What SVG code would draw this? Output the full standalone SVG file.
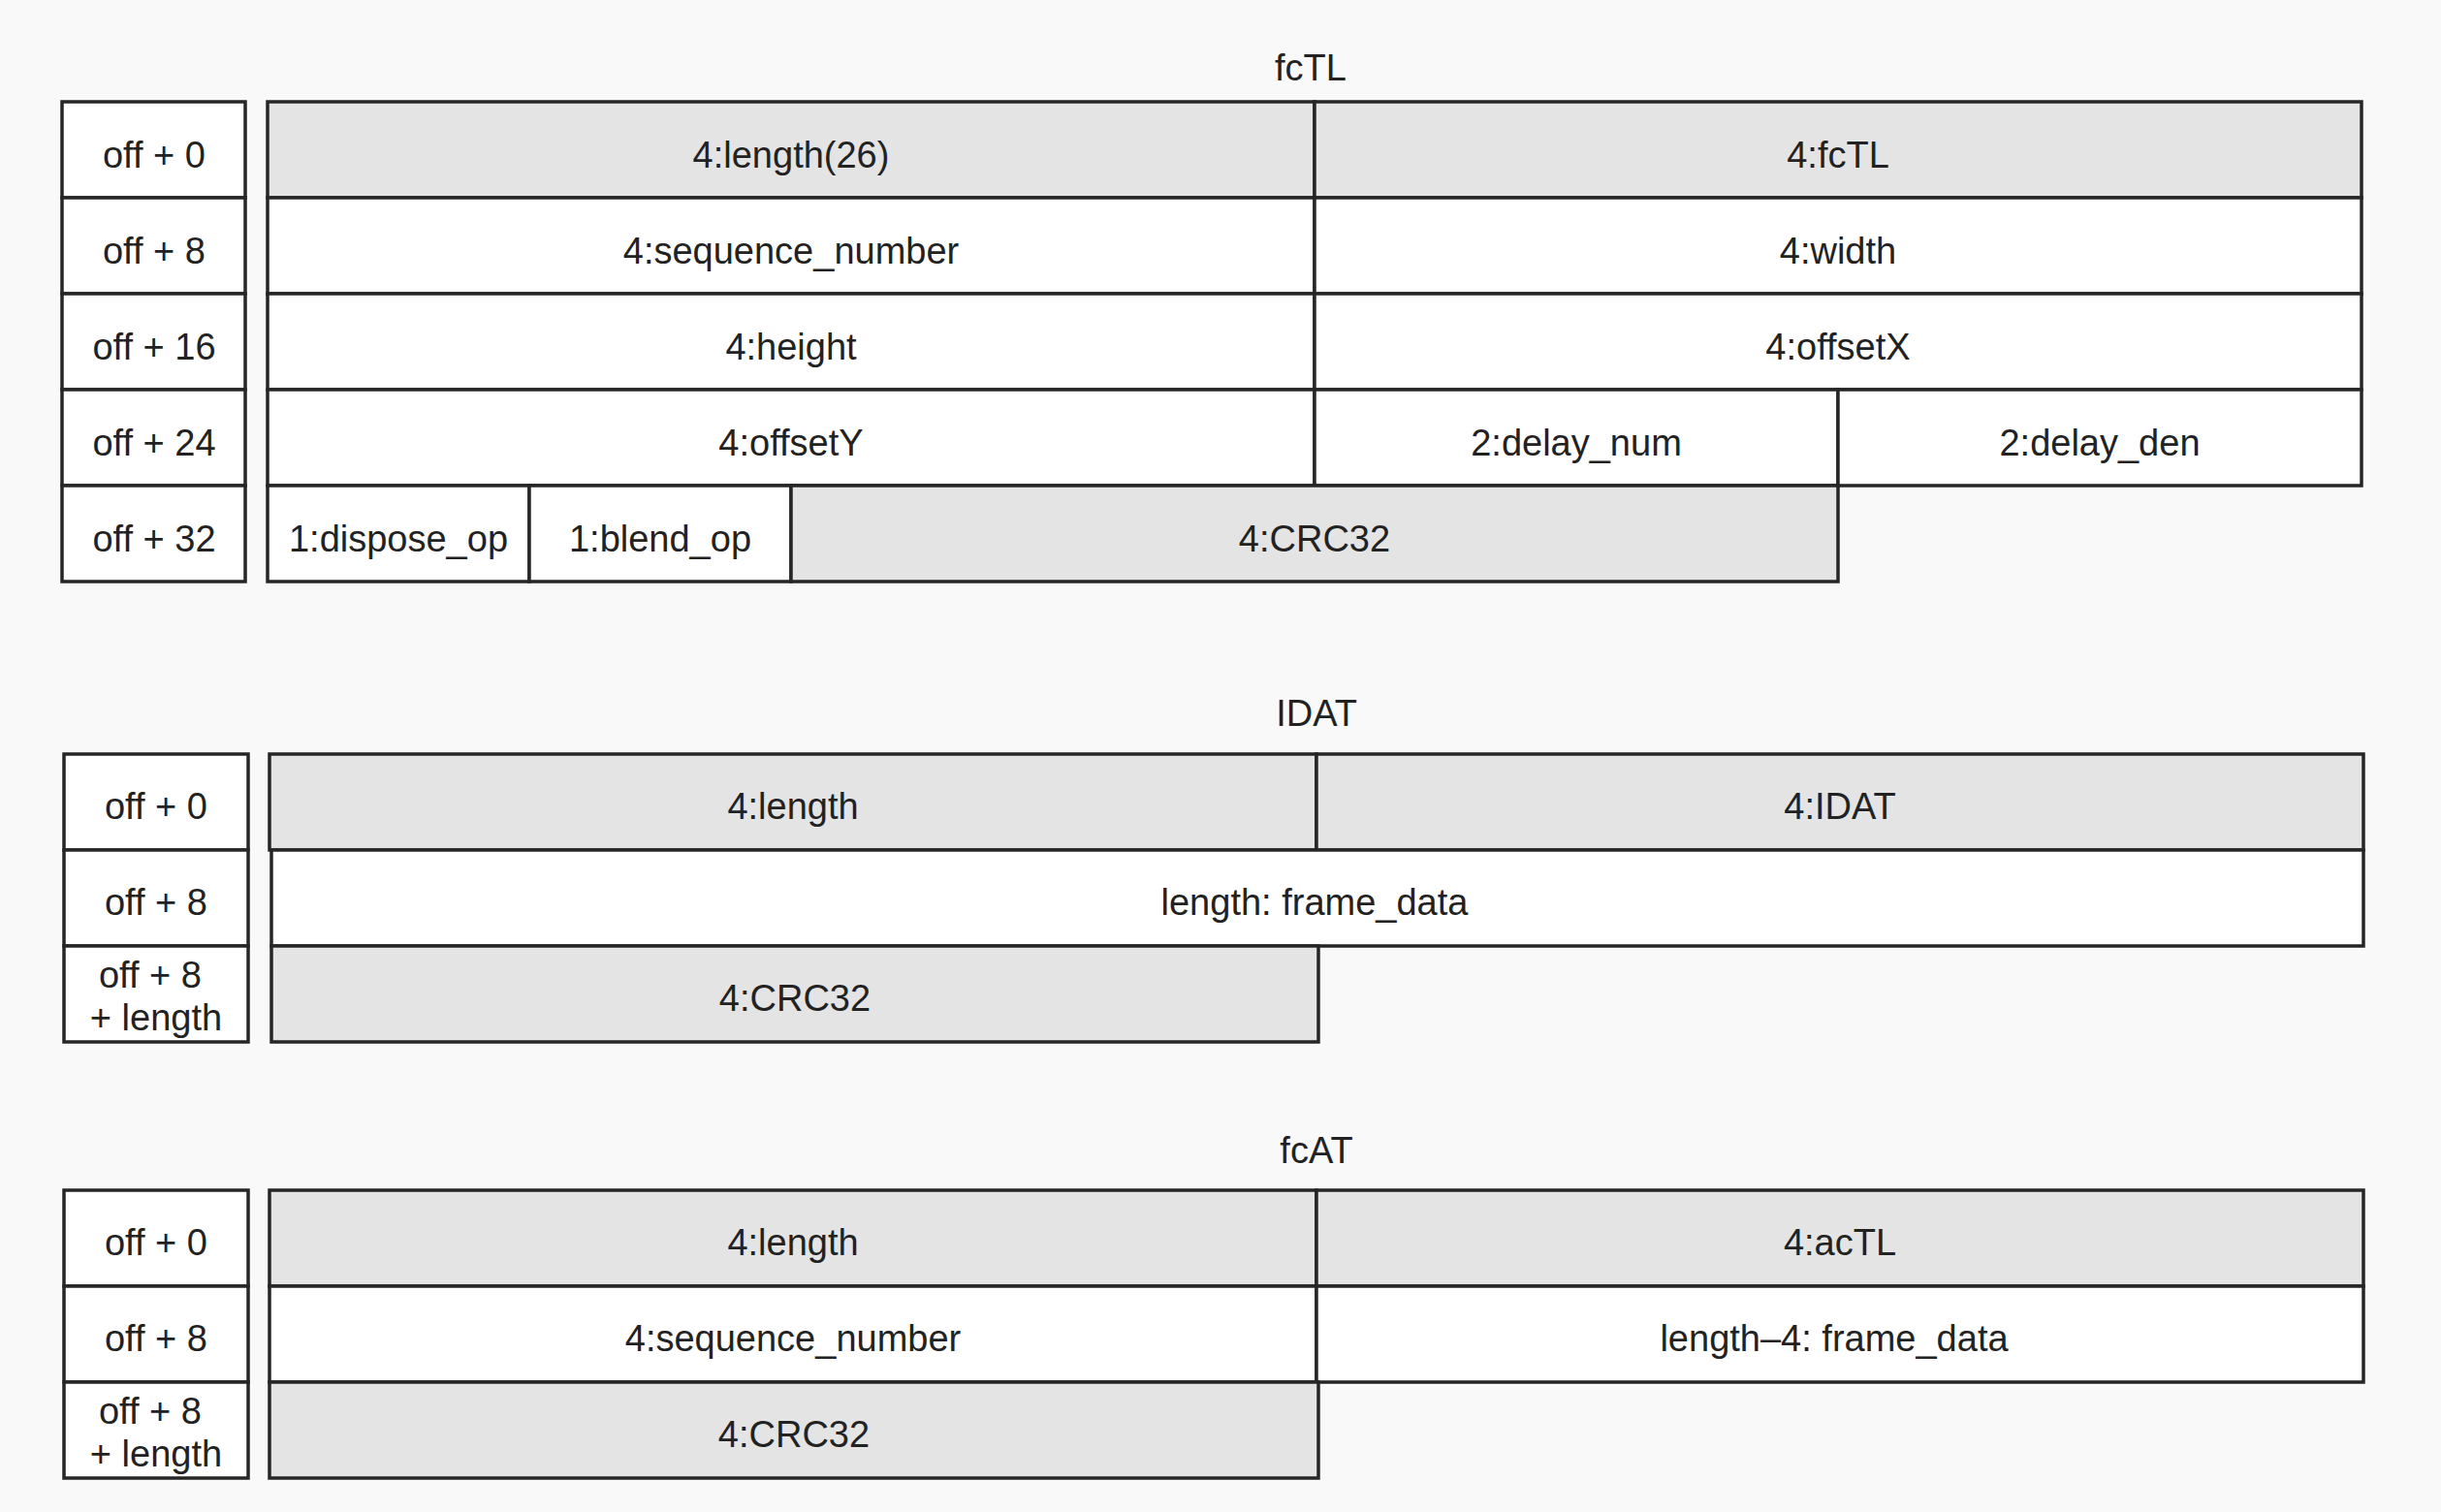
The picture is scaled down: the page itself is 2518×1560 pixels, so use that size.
<svg xmlns="http://www.w3.org/2000/svg" width="2518" height="1560" viewBox="0 0 2518 1560">
<style>
.c{stroke:#262626;stroke-width:3.5}
.w{fill:#ffffff}
.g{fill:#e4e4e4}
.t{font-family:"Liberation Sans",Arial,sans-serif;font-size:38px;fill:#222;text-anchor:middle}
</style>
<rect width="2518" height="1560" fill="#f9f9f9"/>
<!-- fcTL -->
<g id="fcTL">
<text class="t" x="1352" y="83">fcTL</text>
<g id="fcTL-off0"><rect class="c w" x="64" y="105" width="189" height="99"/><text class="t" x="159" y="173">off + 0</text></g>
<g id="fcTL-off8"><rect class="c w" x="64" y="204" width="189" height="99"/><text class="t" x="159" y="272">off + 8</text></g>
<g id="fcTL-off16"><rect class="c w" x="64" y="303" width="189" height="99"/><text class="t" x="159" y="371">off + 16</text></g>
<g id="fcTL-off24"><rect class="c w" x="64" y="402" width="189" height="99"/><text class="t" x="159" y="470">off + 24</text></g>
<g id="fcTL-off32"><rect class="c w" x="64" y="501" width="189" height="99"/><text class="t" x="159" y="569">off + 32</text></g>
<g id="fcTL-length"><rect class="c g" x="276" y="105" width="1080" height="99"/><text class="t" x="816" y="173">4:length(26)</text></g>
<g id="fcTL-type"><rect class="c g" x="1356" y="105" width="1080" height="99"/><text class="t" x="1896" y="173">4:fcTL</text></g>
<g id="fcTL-seq"><rect class="c w" x="276" y="204" width="1080" height="99"/><text class="t" x="816" y="272">4:sequence_number</text></g>
<g id="fcTL-width"><rect class="c w" x="1356" y="204" width="1080" height="99"/><text class="t" x="1896" y="272">4:width</text></g>
<g id="fcTL-height"><rect class="c w" x="276" y="303" width="1080" height="99"/><text class="t" x="816" y="371">4:height</text></g>
<g id="fcTL-offsetX"><rect class="c w" x="1356" y="303" width="1080" height="99"/><text class="t" x="1896" y="371">4:offsetX</text></g>
<g id="fcTL-offsetY"><rect class="c w" x="276" y="402" width="1080" height="99"/><text class="t" x="816" y="470">4:offsetY</text></g>
<g id="fcTL-delaynum"><rect class="c w" x="1356" y="402" width="540" height="99"/><text class="t" x="1626" y="470">2:delay_num</text></g>
<g id="fcTL-delayden"><rect class="c w" x="1896" y="402" width="540" height="99"/><text class="t" x="2166" y="470">2:delay_den</text></g>
<g id="fcTL-dispose"><rect class="c w" x="276" y="501" width="270" height="99"/><text class="t" x="411" y="569">1:dispose_op</text></g>
<g id="fcTL-blend"><rect class="c w" x="546" y="501" width="270" height="99"/><text class="t" x="681" y="569">1:blend_op</text></g>
<g id="fcTL-crc"><rect class="c g" x="816" y="501" width="1080" height="99"/><text class="t" x="1356" y="569">4:CRC32</text></g>
</g>
<!-- IDAT -->
<g id="IDAT">
<text class="t" x="1358" y="749">IDAT</text>
<g id="IDAT-off0"><rect class="c w" x="66" y="778" width="190" height="99"/><text class="t" x="161" y="845">off + 0</text></g>
<g id="IDAT-off8"><rect class="c w" x="66" y="877" width="190" height="99"/><text class="t" x="161" y="944">off + 8</text></g>
<g id="IDAT-offlen"><rect class="c w" x="66" y="976" width="190" height="99"/><text class="t" x="155" y="1019">off + 8</text><text class="t" x="161" y="1063">+ length</text></g>
<g id="IDAT-length"><rect class="c g" x="278" y="778" width="1080" height="99"/><text class="t" x="818" y="845">4:length</text></g>
<g id="IDAT-type"><rect class="c g" x="1358" y="778" width="1080" height="99"/><text class="t" x="1898" y="845">4:IDAT</text></g>
<g id="IDAT-data"><rect class="c w" x="280" y="877" width="2158" height="99"/><text class="t" x="1356" y="944">length: frame_data</text></g>
<g id="IDAT-crc"><rect class="c g" x="280" y="976" width="1080" height="99"/><text class="t" x="820" y="1043">4:CRC32</text></g>
</g>
<!-- fcAT -->
<g id="fcAT">
<text class="t" x="1358" y="1200">fcAT</text>
<g id="fcAT-off0"><rect class="c w" x="66" y="1228" width="190" height="99"/><text class="t" x="161" y="1295">off + 0</text></g>
<g id="fcAT-off8"><rect class="c w" x="66" y="1327" width="190" height="99"/><text class="t" x="161" y="1394">off + 8</text></g>
<g id="fcAT-offlen"><rect class="c w" x="66" y="1426" width="190" height="99"/><text class="t" x="155" y="1469">off + 8</text><text class="t" x="161" y="1513">+ length</text></g>
<g id="fcAT-length"><rect class="c g" x="278" y="1228" width="1080" height="99"/><text class="t" x="818" y="1295">4:length</text></g>
<g id="fcAT-type"><rect class="c g" x="1358" y="1228" width="1080" height="99"/><text class="t" x="1898" y="1295">4:acTL</text></g>
<g id="fcAT-seq"><rect class="c w" x="278" y="1327" width="1080" height="99"/><text class="t" x="818" y="1394">4:sequence_number</text></g>
<g id="fcAT-data"><rect class="c w" x="1358" y="1327" width="1080" height="99"/><text class="t" x="1892" y="1394">length–4: frame_data</text></g>
<g id="fcAT-crc"><rect class="c g" x="278" y="1426" width="1082" height="99"/><text class="t" x="819" y="1493">4:CRC32</text></g>
</g>
</svg>
